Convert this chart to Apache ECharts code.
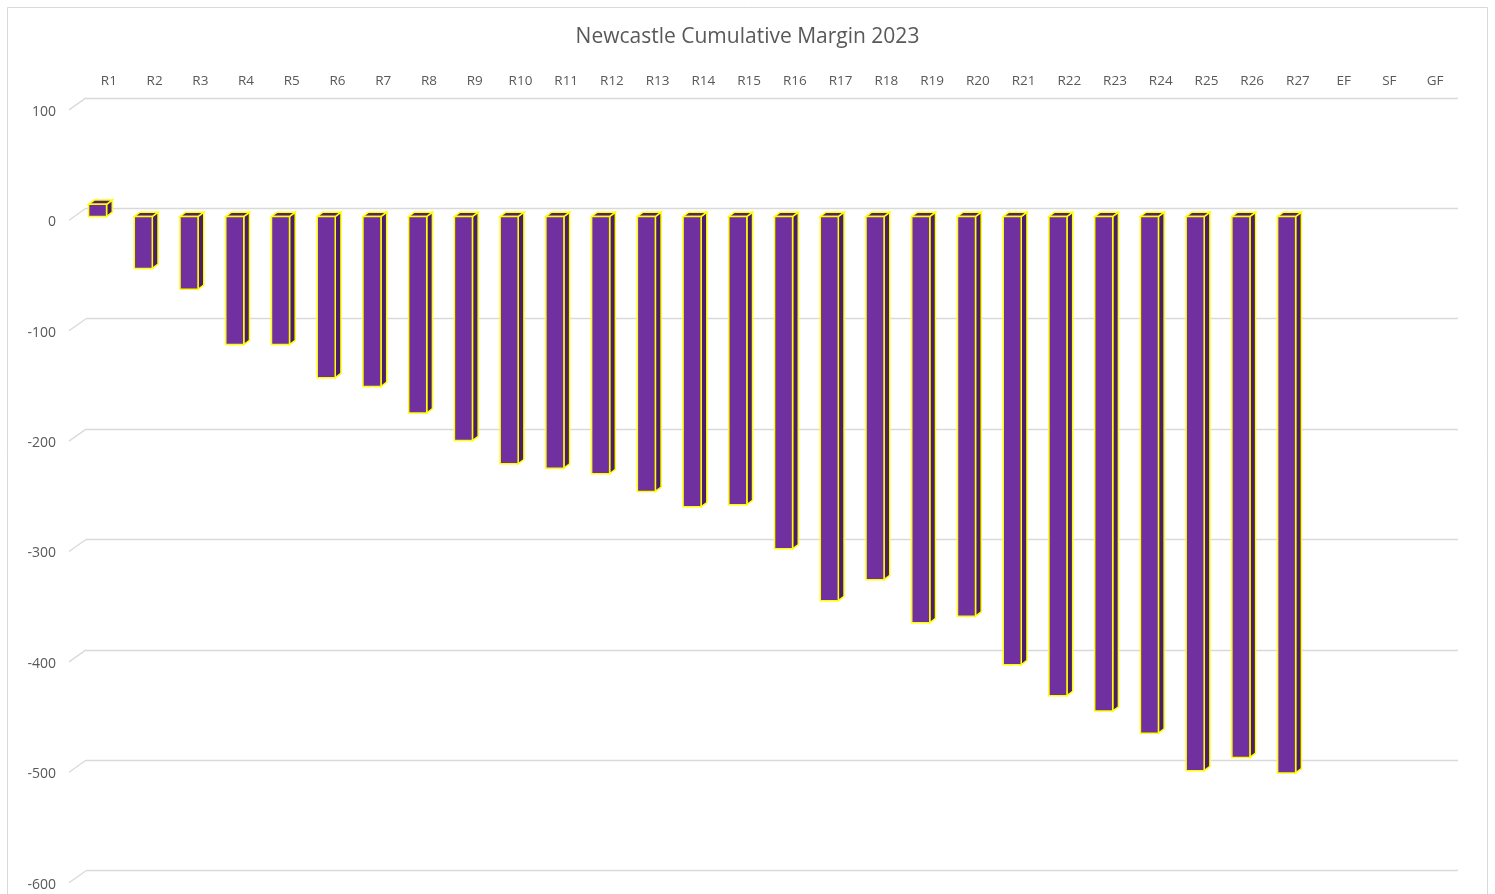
<!DOCTYPE html>
<html>
<head>
<meta charset="utf-8">
<title>Newcastle Cumulative Margin 2023</title>
<script src="https://cdn.jsdelivr.net/npm/echarts@6/dist/echarts.min.js"></script>
<style>
  html, body { margin: 0; padding: 0; background: #ffffff; }
  #chart { width: 1495px; height: 894px; }
</style>
</head>
<body>
<div id="chart"></div>
<script>
// Rounds of the season, finals included
const categories = ['R1', 'R2', 'R3', 'R4', 'R5', 'R6', 'R7', 'R8', 'R9', 'R10',
  'R11', 'R12', 'R13', 'R14', 'R15', 'R16', 'R17', 'R18', 'R19', 'R20',
  'R21', 'R22', 'R23', 'R24', 'R25', 'R26', 'R27', 'EF', 'SF', 'GF'];

// Cumulative points margin after each round
const margins = [11, -47, -66, -116, -116, -146, -154, -178, -203, -224,
  -228, -233, -249, -263, -261, -301, -348, -329, -368, -362,
  -406, -434, -448, -468, -502, -490, -504];

// Value axis ticks
const yTicks = [100, 0, -100, -200, -300, -400, -500, -600];

const TEXT = '#595959';
const GRID_LINE = '#d9d9d9';
const FONT = 'Open Sans';

// Depth offset of the pseudo-3D column sides
const DEPTH_X = 5.7;
const DEPTH_Y = -4.3;

function renderColumn(params, api) {
  const v = api.value(1);
  const i = api.value(0);
  const base = api.coord([i, 0]);
  const end = api.coord([i, v]);
  const band = api.size([1, 0])[0];
  const w = band * 0.394;
  const x0 = base[0] - w / 2;
  const x1 = x0 + w;
  const yTop = Math.min(base[1], end[1]);
  const yBot = Math.max(base[1], end[1]);
  const edge = { stroke: '#ffff00', lineWidth: 1.5, lineJoin: 'miter' };
  return {
    type: 'group',
    children: [
      {
        type: 'polygon',
        shape: { points: [[x1, yTop], [x1 + DEPTH_X, yTop + DEPTH_Y], [x1 + DEPTH_X, yBot + DEPTH_Y], [x1, yBot]] },
        style: Object.assign({ fill: '#4a1f69' }, edge)
      },
      {
        type: 'polygon',
        shape: { points: [[x0, yTop], [x0 + DEPTH_X, yTop + DEPTH_Y], [x1 + DEPTH_X, yTop + DEPTH_Y], [x1, yTop]] },
        style: Object.assign({ fill: '#532373' }, edge)
      },
      {
        type: 'rect',
        shape: { x: x0, y: yTop, width: w, height: yBot - yTop },
        style: Object.assign({ fill: '#7030a0' }, edge)
      }
    ]
  };
}

// Short diagonal stubs joining each back-wall gridline to the front plane
function renderStub(params, api) {
  const p = api.coord([0, api.value(1)]);
  const left = p[0] - api.size([1, 0])[0] / 2;
  return {
    type: 'line',
    shape: { x1: left, y1: p[1], x2: left - 17, y2: p[1] + 12 },
    style: { stroke: GRID_LINE, lineWidth: 1.3 }
  };
}

const chart = echarts.init(document.getElementById('chart'), null, { renderer: 'canvas' });

const valueAxisBase = { type: 'value', min: -600, max: 100, interval: 100 };

chart.setOption({
  animation: false,
  backgroundColor: '#ffffff',
  title: {
    text: 'Newcastle Cumulative Margin 2023',
    left: 'center',
    top: 22,
    textStyle: { fontFamily: FONT, fontSize: 21, fontWeight: 'normal', color: TEXT }
  },
  graphic: [{
    type: 'rect',
    shape: { x: 7.5, y: 7.5, width: 1480, height: 900 },
    style: { fill: 'none', stroke: GRID_LINE, lineWidth: 1 },
    silent: true
  }],
  grid: [
    // back wall
    { left: 86, right: 37, top: 97.9, bottom: 23.3 },
    // column plane
    { left: 74.7, right: 48.3, top: 106.1, bottom: 15.1 },
    // front plane (value labels)
    { left: 69, right: 54, top: 111.9, bottom: 9.3 }
  ],
  xAxis: [
    {
      gridIndex: 0, type: 'category', data: categories, position: 'top',
      axisLine: { show: false }, axisTick: { show: false },
      axisLabel: { interval: 0, margin: 10, color: TEXT, fontFamily: FONT, fontSize: 13.5 }
    },
    {
      gridIndex: 1, type: 'category', data: categories, show: false
    },
    {
      gridIndex: 2, type: 'category', data: categories, show: false
    }
  ],
  yAxis: [
    Object.assign({}, valueAxisBase, {
      gridIndex: 0,
      axisLine: { show: false }, axisTick: { show: false }, axisLabel: { show: false },
      splitLine: { show: true, lineStyle: { color: GRID_LINE, width: 1.3 } }
    }),
    Object.assign({}, valueAxisBase, {
      gridIndex: 1, show: false
    }),
    Object.assign({}, valueAxisBase, {
      gridIndex: 2,
      axisLine: { show: false }, axisTick: { show: false },
      splitLine: { show: false },
      axisLabel: { margin: 13, color: TEXT, fontFamily: FONT, fontSize: 14 }
    })
  ],
  series: [
    {
      type: 'custom',
      name: 'stubs',
      xAxisIndex: 0, yAxisIndex: 0,
      silent: true,
      renderItem: renderStub,
      data: yTicks.map(function (t) { return [0, t]; }),
      encode: { x: 0, y: 1 },
      z: 1
    },
    {
      type: 'custom',
      name: 'Cumulative Margin',
      xAxisIndex: 1, yAxisIndex: 1,
      renderItem: renderColumn,
      data: margins.map(function (v, i) { return [i, v]; }),
      encode: { x: 0, y: 1 },
      z: 2
    }
  ]
});
</script>
</body>
</html>
